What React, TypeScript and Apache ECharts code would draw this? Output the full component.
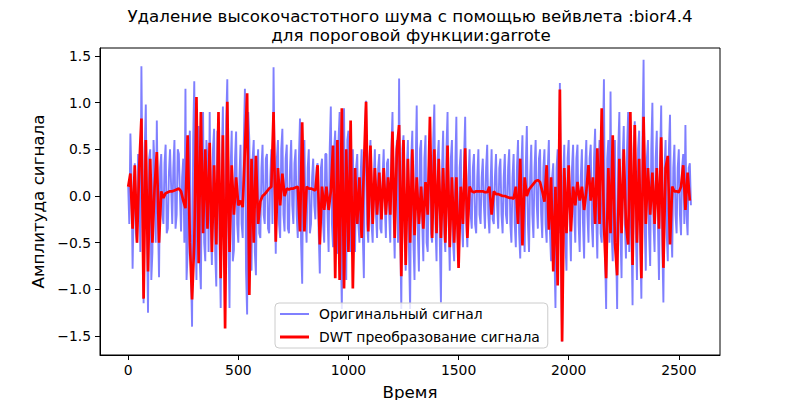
import React, { useEffect, useRef } from "react";
import * as echarts from "echarts";

const STEP_ORIG = 5;
const STEP_DWT = 10;

const original = [
  0.1, -0.3, 0.67, 0.2, -0.78, -0.1, 0.35, -0.4, -0.5, 0.45, 0.3, -0.6, 1.39, 0.1, -1.15, 0.5, 0.98, -0.3, -1.25, 0.4,
  0.5, -0.9, -0.6, 0.6, 0.3, -0.5, 0.81, -0.2, -0.87, 0.3, 0.45, -0.2, -0.3, 0.35, 0.55, -0.4, -0.35, 0.25, 0.5, 0.1,
  -0.3, 0.3, 0.6, -0.35, -0.2, 0.5, 0.45, 0.0, -0.38, 0.2, 0.4, -0.5, 1.15, -0.9, -0.6, 0.5, 0.7, -0.8, -1.4, 0.6,
  1.23, -0.3, -0.9, 0.6, 0.75, -0.7, -1.0, 0.5, 0.9, -0.5, -0.7, 0.6, 0.4, -0.6, 0.9, -0.3, -0.74, 0.5, 0.72, -0.6,
  -0.97, 0.7, 0.5, -0.5, -1.2, 0.4, 0.96, -0.6, -0.88, 0.8, 1.25, -0.4, -1.2, 0.3, 0.7, -0.7, -0.58, 0.4, 0.69, -0.3,
  -0.5, 0.2, 0.55, -0.3, -0.45, 0.6, 1.15, -0.8, -1.27, 0.9, 0.6, -0.5, -0.8, 0.4, 0.6, -0.6, -0.85, 0.3, 0.5, -0.4,
  -0.45, 0.3, 0.55, -0.2, -0.3, 0.4, 0.45, -0.35, -0.4, 0.2, 0.5, -0.3, 1.38, 0.2, -0.62, 0.4, 0.6, -0.3, -0.45, 0.5,
  0.72, -0.2, -0.38, 0.4, 0.55, -0.35, -0.4, 0.3, 0.6, -0.1, -0.3, 0.35, 0.5, -0.2, -0.45, 0.4, 0.83, -0.5, -0.94, 0.5,
  0.6, -0.2, -0.5, 0.3, 0.5, -0.4, -0.3, 0.2, 0.4, -0.1, -0.25, 0.3, 0.35, -0.4, -0.83, 0.3, 0.4, -0.3, -0.5, 0.45,
  0.45, -0.2, -0.6, 0.5, 0.96, -0.3, -0.55, 0.5, 0.7, -0.4, -0.62, 0.6, 0.9, -0.5, -1.21, 0.6, 0.94, -0.4, -0.9, 0.6,
  0.7, -0.3, -0.6, 0.4, 0.5, -0.2, -0.6, 0.3, 0.45, -0.3, -0.5, 0.2, 0.5, -0.4, -0.88, 0.6, 1.02, -0.3, -0.5, 0.4,
  0.6, -0.3, -0.5, 0.2, 0.5, -0.2, -0.45, 0.3, 0.45, -0.35, -0.4, 0.2, 0.5, -0.1, -0.45, 0.35, 0.4, -0.2, -0.5, 0.5,
  0.9, -0.2, -0.67, 0.4, 0.6, -0.5, 1.26, -0.3, -1.21, 0.5, 0.65, -0.4, -0.8, 0.3, 0.6, -0.6, -1.21, 0.4, 0.7, -0.5,
  -0.9, 0.3, 0.97, -0.4, -0.81, 0.5, 0.6, -0.3, -0.7, 0.4, 0.65, -0.5, -0.6, 0.3, 0.5, -0.4, -0.5, 0.6, 0.98, -0.3,
  -0.7, 0.4, 0.6, -0.5, -1.14, 0.3, 0.7, -0.4, -0.6, 0.5, 0.9, -0.3, -0.8, 0.4, 0.6, -0.5, -0.7, 0.3, 0.85, -0.4,
  -0.7, 0.3, 0.5, -0.3, -0.55, 0.4, 0.85, -0.3, -0.55, 0.2, 0.5, -0.2, -0.35, 0.3, 0.45, -0.3, -0.4, 0.2, 0.5, -0.2,
  -0.3, 0.2, 0.4, -0.1, -0.35, 0.3, 0.55, -0.2, -0.4, 0.1, 0.5, -0.25, -0.3, 0.2, 0.45, -0.1, -0.35, 0.3, 0.4, -0.2,
  -0.4, 0.2, 0.45, -0.2, -0.3, 0.3, 0.5, -0.3, -0.5, 0.2, 0.45, -0.3, -0.55, 0.3, 0.6, -0.4, -0.67, 0.3, 0.65, -0.3,
  -0.6, 0.3, 0.75, -0.3, -0.6, 0.2, 0.55, -0.2, -0.45, 0.3, 0.6, -0.1, -0.35, 0.4, 0.5, -0.2, -0.45, 0.3, 0.5, -0.3,
  -0.5, 0.3, 0.6, -0.4, -0.7, 0.2, 0.35, -0.6, -1.2, 0.3, 0.5, -0.4, 1.21, -0.5, -1.56, 0.2, 0.55, -0.5, -0.8, 0.4,
  0.6, -0.3, -0.7, 0.3, 0.55, -0.2, -0.5, 0.4, 0.55, -0.3, -0.6, 0.2, 0.5, -0.3, -0.67, 0.3, 0.6, -0.2, -0.5, 0.4,
  0.55, -0.3, -0.55, 0.4, 0.72, -0.2, -0.67, 0.3, 0.6, -0.4, -0.5, 0.5, 1.25, -0.6, -1.21, 0.4, 0.6, -0.5, 1.12, -0.4,
  -0.7, 0.3, 0.6, -0.5, -1.21, 0.5, 0.9, -0.4, -0.88, 0.4, 0.75, -0.3, -0.67, 0.5, 0.9, -0.6, 0.7, -0.4, -1.17, 0.5,
  0.8, -0.4, -0.9, 0.5, 0.7, -0.5, -1.1, 0.6, 1.46, -0.3, -0.8, 0.4, 0.6, -0.4, -0.75, 0.5, 1.0, -0.3, -0.6, 0.4,
  0.7, -0.3, -0.9, 0.4, 0.97, -0.5, -1.14, 0.3, 0.6, -0.4, -0.7, 0.5, 0.87, -0.3, -0.66, 0.3, 0.55, -0.2, -0.4, 0.3,
  0.5, -0.2, -0.42, 0.3, 0.45, -0.3, 0.76, -0.2, -0.42, 0.3, 0.35, -0.1,
];

const dwt = [
  0.1, 0.24, -0.35, 0.33, -0.5, 0.3, 0.83, -1.1, 0.6, -0.81,
  0.4, -0.5, 0.1, 0.47, -0.5, 0.05, -0.02, 0.03, 0.04, 0.05,
  0.05, 0.06, 0.07, 0.08, 0.05, -0.05, -0.13, 0.65, -0.5, -1.11,
  -0.5, 1.06, -0.72, 0.9, -0.4, 0.5, -0.35, 0.57, -0.6, 0.33,
  -0.52, 0.9, -0.88, 0.65, -1.42, 1.01, -0.6, 0.33, -0.2, 0.2,
  -0.1, -0.05, -0.12, 0.5, 1.1, -1.06, 0.4, -0.5, 0.43, -0.3,
  -0.06, 0.0, 0.02, 0.05, 0.08, 0.1, 0.9, -0.49, 0.3, -0.1,
  0.24, 0.0, 0.08, 0.07, 0.08, 0.08, 0.09, 0.1, -0.38, 0.79,
  -0.38, 0.1, 0.08, 0.08, 0.07, 0.06, 0.33, -0.52, 0.1, -0.15,
  0.1, -0.15, 0.05, 0.54, -0.88, 0.6, -0.9, 0.94, -0.99, 0.5,
  -0.6, 0.81, -0.99, 0.3, -0.3, 0.2, -0.45, 0.3, 1.01, -0.38,
  0.54, -0.3, 0.3, -0.2, 0.25, -0.25, 0.3, -0.2, 0.2, -0.2,
  0.69, -0.45, 0.5, 0.76, -0.86, 0.6, -0.74, 0.4, -0.5, 0.5,
  -0.42, 0.2, -0.3, 0.1, -0.35, 0.15, -0.2, 0.85, -0.45, 0.5,
  -0.4, 0.4, -0.45, 0.3, -0.5, 0.54, -0.55, 0.2, -0.5, 0.2,
  -0.77, 0.1, -0.3, 0.51, -0.45, 0.1, 0.05, 0.04, 0.05, 0.05,
  0.05, 0.05, 0.04, 0.04, 0.1, -0.2, 0.05, 0.02, 0.02, 0.01,
  0.0, 0.0, -0.01, -0.02, -0.02, -0.03, 0.1, -0.3, 0.4, -0.53,
  0.2, 0.0, 0.07, 0.1, 0.13, 0.16, 0.17, 0.15, 0.05, -0.06,
  0.33, -0.36, 0.2, -0.81, 0.1, -0.96, 1.14, -1.56, 0.3, -0.4,
  0.33, -0.38, 0.1, -0.1, 0.15, -0.05, 0.1, -0.15, 0.05, 0.33,
  -0.05, 0.2, -0.3, 0.51, -0.3, 0.94, -0.3, -0.88, 0.3, -0.4,
  0.65, -0.5, -0.85, 0.4, -0.4, 0.5, -0.3, -0.52, 0.9, -0.74,
  0.76, -0.5, 0.4, -0.88, 0.85, -0.3, 0.3, -0.2, 0.25, -0.3,
  0.3, -0.35, 0.63, -0.77, 0.3, 0.43, -0.52, 0.1, 0.05, 0.05,
  0.04, 0.1, 0.33, -0.15, 0.25, -0.05,
];

const xTicks = [0, 500, 1000, 1500, 2000, 2500];
const yTicks = [-1.5, -1.0, -0.5, 0.0, 0.5, 1.0, 1.5];
const titleLines = [
  "Удаление высокочастотного шума с помощью вейвлета :bior4.4",
  "для пороговой функции:garrote",
];
const seriesNames = ["Оригинальный сигнал", "DWT преобразование сигнала"];
const xName = "Время";
const yName = "Амплитуда сигнала";

const FONT = "DejaVu Sans";
const SMALL = 13.9;
const LARGE = 16.7;

export default function App() {
  const ref = useRef<HTMLDivElement>(null);

  useEffect(() => {
    const chart = echarts.init(ref.current!, null, { renderer: "svg" });
    const toPairs = (arr: number[], step: number) => arr.map((v, i) => [i * step, v]);
    const fmt = (v: number) => v.toFixed(1).replace("-", "\u2212");

    chart.setOption({
      animation: false,
      backgroundColor: "#ffffff",
      grid: {
        left: 100,
        right: 80,
        top: 48,
        bottom: 45,
        show: true,
        containLabel: false,
        outerBoundsMode: "none",
        borderColor: "#000000",
        borderWidth: 1,
        backgroundColor: "transparent",
      },
      graphic: [
        {
          type: "text",
          x: 410,
          y: 16,
          style: {
            text: titleLines[0],
            fill: "#000",
            font: `${LARGE}px "${FONT}"`,
            textAlign: "center",
            textVerticalAlign: "middle",
          },
        },
        {
          type: "text",
          x: 411,
          y: 35,
          style: {
            text: titleLines[1],
            fill: "#000",
            font: `${LARGE}px "${FONT}"`,
            textAlign: "center",
            textVerticalAlign: "middle",
          },
        },
      ],
      legend: {
        orient: "vertical",
        left: 275,
        top: 303,
        itemWidth: 29,
        itemHeight: 14,
        itemGap: 9,
        padding: [4, 8, 4, 5],
        backgroundColor: "rgba(255,255,255,0.8)",
        borderColor: "#cccccc",
        borderWidth: 1,
        borderRadius: 4,
        symbolKeepAspect: true,
        itemStyle: { borderWidth: 0 },
        textStyle: {
          fontFamily: FONT,
          fontSize: SMALL,
          color: "#000",
          padding: [0, 0, 0, 5],
        },
        data: [
          { name: seriesNames[0], icon: "path://M0,0H29V2H0Z" },
          { name: seriesNames[1], icon: "path://M0,0H29V3H0Z" },
        ],
      },
      xAxis: {
        type: "value",
        min: -128,
        max: 2687,
        name: xName,
        nameLocation: "middle",
        nameGap: 28,
        nameTextStyle: { fontFamily: FONT, fontSize: LARGE, color: "#000" },
        axisLine: { show: true, onZero: false, lineStyle: { color: "#000", width: 1 } },
        axisTick: {
          show: true,
          customValues: xTicks,
          length: 5,
          lineStyle: { color: "#000", width: 1 },
        },
        axisLabel: {
          customValues: xTicks,
          fontFamily: FONT,
          fontSize: SMALL,
          color: "#000",
          margin: 8,
          formatter: (v: number) => String(v),
        },
        splitLine: { show: false },
      },
      yAxis: {
        type: "value",
        min: -1.704,
        max: 1.586,
        name: yName,
        nameLocation: "middle",
        nameGap: 48,
        nameRotate: 90,
        nameTextStyle: { fontFamily: FONT, fontSize: LARGE, color: "#000" },
        axisLine: { show: true, onZero: false, lineStyle: { color: "#000", width: 1 } },
        axisTick: {
          show: true,
          customValues: yTicks,
          length: 5,
          lineStyle: { color: "#000", width: 1 },
        },
        axisLabel: {
          customValues: yTicks,
          fontFamily: FONT,
          fontSize: SMALL,
          color: "#000",
          margin: 9,
          formatter: (v: number) => fmt(v),
        },
        splitLine: { show: false },
      },
      series: [
        {
          name: seriesNames[0],
          type: "line",
          data: toPairs(original, STEP_ORIG),
          showSymbol: false,
          symbol: "none",
          lineStyle: { color: "#0000ff", width: 1.9, opacity: 0.5 },
          itemStyle: { color: "#8080ff" },
          z: 2,
        },
        {
          name: seriesNames[1],
          type: "line",
          data: toPairs(dwt, STEP_DWT),
          showSymbol: false,
          symbol: "none",
          lineStyle: { color: "#ff0000", width: 2.7 },
          itemStyle: { color: "#ff0000" },
          z: 3,
        },
      ],
    });

    return () => chart.dispose();
  }, []);

  return (
    <div
      ref={ref}
      style={{ position: "fixed", left: 0, top: 0, width: 800, height: 400 }}
    />
  );
}
